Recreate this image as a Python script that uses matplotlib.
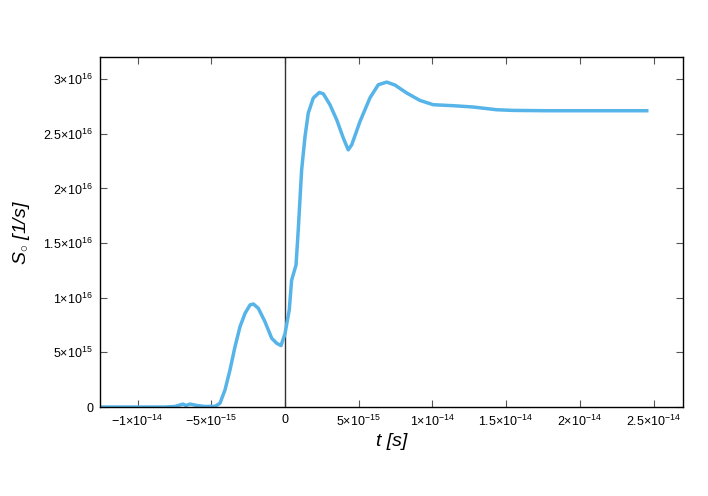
import matplotlib
matplotlib.use('Agg')
import matplotlib.pyplot as plt
from matplotlib.ticker import FuncFormatter

plt.rcParams['font.family'] = ['Liberation Sans', 'DejaVu Sans']
plt.rcParams['mathtext.fontset'] = 'custom'
plt.rcParams['mathtext.rm'] = 'Liberation Sans'
plt.rcParams['mathtext.it'] = 'Liberation Sans:italic'

# time in units of 1e-15 s, rate in units of 1e16 1/s
t_fs = [-13.0, -12.55, -8.14, -7.46, -6.92, -6.72, -6.44, -5.97, -5.43, -4.95,
        -4.75, -4.41, -4.07, -3.73, -3.39, -3.05, -2.71, -2.37, -2.15, -1.81,
        -1.36, -0.90, -0.56, -0.27, 0.0, 0.29, 0.45, 0.75, 0.90, 1.13,
        1.36, 1.58, 1.92, 2.33, 2.60, 3.05, 3.51, 3.96, 4.29, 4.53,
        5.09, 5.77, 6.33, 6.90, 7.46, 8.26, 9.16, 10.06, 11.42, 12.77,
        14.36, 15.47, 17.75, 24.54]
rate = [0.0, 0.0, 0.0, 0.005, 0.027, 0.014, 0.027, 0.014, 0.005, 0.006,
        0.006, 0.034, 0.156, 0.339, 0.552, 0.735, 0.857, 0.934, 0.943, 0.904,
        0.781, 0.629, 0.583, 0.562, 0.67, 0.888, 1.16, 1.30, 1.62, 2.17,
        2.476, 2.69, 2.827, 2.878, 2.866, 2.766, 2.628, 2.46, 2.353, 2.40,
        2.613, 2.83, 2.949, 2.973, 2.946, 2.873, 2.805, 2.766, 2.757, 2.745,
        2.720, 2.714, 2.711, 2.711]

t = [v * 1e-15 for v in t_fs]
S = [v * 1e16 for v in rate]

xticks = [-1e-14, -5e-15, 0, 5e-15, 1e-14, 1.5e-14, 2e-14, 2.5e-14]
yticks = [0, 5e15, 1e16, 1.5e16, 2e16, 2.5e16, 3e16]


def sci_fmt(val, pos):
    if val == 0:
        return '0'
    exp = int(f'{val:e}'.split('e')[1])
    mant = val / 10 ** exp
    m = f'{mant:g}'.replace('-', '\u2212')
    return f'{m}$\\times$10$^{{{exp}}}$'


fig = plt.figure(figsize=(7.08, 4.96), dpi=100)
ax = fig.add_axes([0.1412, 0.1794, 0.8235, 0.7051])

ax.axvline(0, color='#333333', linewidth=1)
ax.plot(t, S, color='#56B4E9', linewidth=2.5, solid_joinstyle='round')

ax.set_xlim(-1.255e-14, 2.70e-14)
ax.set_ylim(0, 3.2e16)
ax.set_xticks(xticks)
ax.set_yticks(yticks)
ax.xaxis.set_major_formatter(FuncFormatter(sci_fmt))
ax.yaxis.set_major_formatter(FuncFormatter(sci_fmt))
ax.tick_params(direction='in', top=True, right=True, length=5, width=0.8,
               color='#555555', labelsize=9, pad=5)
for sp in ax.spines.values():
    sp.set_linewidth(1)

ax.set_xlabel('t [s]', fontsize=14, style='italic', labelpad=3)
ax.set_ylabel('$S_{\\circ}$ [1/s]', fontsize=14, style='italic', labelpad=8)

fig.savefig('out.png', dpi=100)
